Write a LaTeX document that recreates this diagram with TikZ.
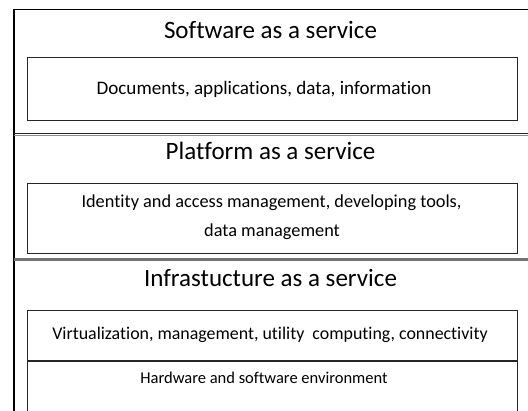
\documentclass[tikz,border=0pt]{standalone}
\usepackage{fontspec}
\setmainfont{Carlito}[Ligatures={NoCommon}]
\begin{document}
\begin{tikzpicture}[x=1pt,y=-1pt,
  frame/.style={line width=1.4pt,draw=black},
  sep/.style={line width=1.6pt,draw=black!85},
  sepgray/.style={line width=2.6pt,draw=black!55},
  inner/.style={draw=black!85,line width=1.1pt,rectangle,inner sep=0pt},
  title/.style={font=\fontsize{25}{30}\selectfont,anchor=base},
  item/.style={font=\fontsize{#1}{23}\selectfont,anchor=base},
  item/.default=18.5]
  \clip (0,0) rectangle (528,411);
  \fill[white] (0,0) rectangle (528,411);

  % outer frame: top edge, left edge and layer separators
  \coordinate (tl) at (14,9.5);
  \coordinate (tr) at (530,9.5);
  \coordinate (bl) at (14,415);
  \coordinate (s1l) at (14,133.7);
  \coordinate (s1r) at (530,133.7);
  \coordinate (s2l) at (14,259.3);
  \coordinate (s2r) at (530,259.3);
  \draw[frame] (tr) -- (tl) -- (bl);
  \draw[line width=1pt,draw=black!45] ([yshift=-1.4pt]s1l) -- ([yshift=-1.4pt]s1r);
  \draw[sep] (s1l) -- (s1r);
  \draw[sepgray] (s2l) -- (s2r);

  % Software as a service
  \node[title] (saas) at (270.5,39) {Software as a service};
  \node[inner,minimum width=490pt,minimum height=63.4pt] (saasbox) at (272.3,89) {};
  \node[item=19.1] (saastext) at (264,95) {Documents, applications, data, information};

  % Platform as a service
  \node[title] (paas) at (270.5,160) {Platform as a service};
  \node[inner,minimum width=490pt,minimum height=70pt] (paasbox) at (272.3,218.3) {};
  \node[item=18.3] (paas1) at (271.5,207.5) {Identity and access management, developing tools,};
  \node[item=18.3] (paas2) at (272,236.5) {data management};

  % Infrastructure as a service
  \node[title] (iaas) at (270.5,287) {Infrastucture as a service};
  \node[inner,minimum width=490pt,minimum height=50.3pt] (virtbox) at (272.3,335.85) {};
  \node[inner,minimum width=490pt,minimum height=60pt] (hwbox) at (272.3,391) {};
  \node[item=17.9] (virt) at (270,339.5) {Virtualization, management, utility\ \ computing, connectivity};
  \node[item=16.5] (hw) at (264,384) {Hardware and software environment};
\end{tikzpicture}
\end{document}
